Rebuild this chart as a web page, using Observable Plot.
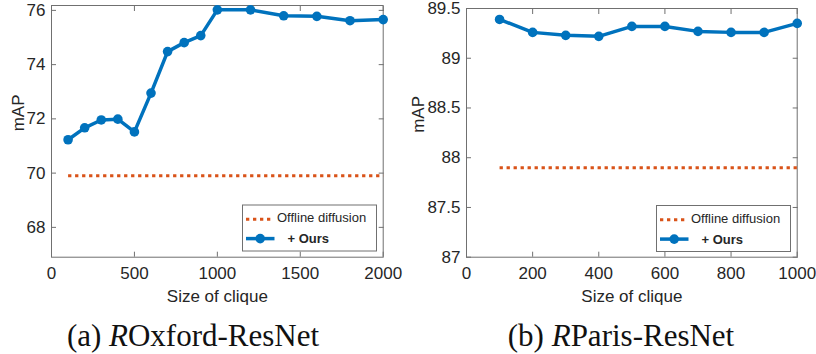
<!DOCTYPE html>
<html><head><meta charset="utf-8">
<script src="https://cdn.jsdelivr.net/npm/d3@7"></script>
<script src="https://cdn.jsdelivr.net/npm/@observablehq/plot@0.6"></script>
<style>
html,body{margin:0;padding:0;background:#fff;}
#wrap{position:relative;width:816px;height:354px;overflow:hidden;font-family:"Liberation Sans",Arial,sans-serif;}
#wrap > svg{position:absolute;}
</style></head><body><div id="wrap"></div>
<script>
// ---- data ----
const sizeA = [100, 200, 300, 400, 500, 600, 700, 800, 900, 1000, 1200, 1400, 1600, 1800, 2000];
const oursA = [71.23, 71.67, 71.96, 71.99, 71.52, 72.95, 74.48, 74.81, 75.07, 76.02, 76.02, 75.80, 75.78, 75.62, 75.66];
const offlineA = 69.9;
const xTicksA = [0, 500, 1000, 1500, 2000];
const yTicksA = [68, 70, 72, 74, 76];

const sizeB = [100, 200, 300, 400, 500, 600, 700, 800, 900, 1000];
const oursB = [89.39, 89.26, 89.23, 89.22, 89.32, 89.32, 89.27, 89.26, 89.26, 89.35];
const offlineB = 87.9;
const xTicksB = [0, 200, 400, 600, 800, 1000];
const yTicksB = [87, 87.5, 88, 88.5, 89, 89.5];

const xLabel = "Size of clique";
const yLabel = "mAP";
const legendLabels = ["Offline diffusion", "+ Ours"];
const captionA = ["(a) ", "R", "Oxford-ResNet"];
const captionB = ["(b) ", "R", "Paris-ResNet"];

const BLUE = "#0072BD", ORANGE = "#D95319", AXIS = "#707070", TEXT = "#262626";
const wrap = document.getElementById("wrap");
const fmt = d => String(d);

function panel({sizes, ours, offline, xDomain, yDomain, xTicks, yTicks, left, width, mt, ml, mr, labelDx}) {
  const pts = sizes.map((x, i) => ({x, y: ours[i]}));
  const base = sizes.map(x => ({x, y: offline}));
  const chart = Plot.plot({
    width, height: 310,
    marginTop: mt, marginLeft: ml, marginRight: mr, marginBottom: 53.3,
    x: {domain: xDomain},
    y: {domain: yDomain},
    style: {fontSize: "17px", fontFamily: "'Liberation Sans', Arial, sans-serif", color: TEXT, background: "transparent", overflow: "visible"},
    marks: [
      Plot.frame({stroke: AXIS, strokeWidth: 1}),
      Plot.axisX(xTicks, {anchor: "bottom", tickSize: -5, tickPadding: 15, tickFormat: fmt, label: null, stroke: AXIS, fill: TEXT}),
      Plot.axisX(xTicks, {anchor: "top", tickSize: -5, tickFormat: () => "", label: null, stroke: AXIS}),
      Plot.axisY(yTicks, {anchor: "left", tickSize: -5, tickPadding: 11, tickFormat: fmt, label: null, stroke: AXIS, fill: TEXT}),
      Plot.axisY(yTicks, {anchor: "right", tickSize: -5, tickFormat: () => "", label: null, stroke: AXIS}),
      Plot.text([xLabel], {text: d => d, frameAnchor: "bottom", dy: 39, lineAnchor: "middle", fill: TEXT}),
      Plot.text([yLabel], {text: d => d, frameAnchor: "left", dx: labelDx, rotate: -90, fill: TEXT}),
      Plot.line(base, {x: "x", y: "y", stroke: ORANGE, strokeWidth: 3, strokeDasharray: "3.3,3.7", strokeLinecap: "butt"}),
      Plot.line(pts, {x: "x", y: "y", stroke: BLUE, strokeWidth: 3.5}),
      Plot.dot(pts, {x: "x", y: "y", r: 4.8, fill: BLUE, stroke: "none"})
    ]
  });
  chart.style.left = left + "px";
  chart.style.top = "0px";
  wrap.appendChild(chart);
}

panel({sizes: sizeA, ours: oursA, offline: offlineA, xDomain: [0, 2000], yDomain: [66.9, 76.18],
       xTicks: xTicksA, yTicks: yTicksA, left: 0, width: 400, mt: 5, ml: 51, mr: 17.3, labelDx: -33});
panel({sizes: sizeB, ours: oursB, offline: offlineB, xDomain: [0, 1000], yDomain: [87, 89.5],
       xTicks: xTicksB, yTicks: yTicksB, left: 408, width: 408, mt: 8, ml: 58, mr: 19.3, labelDx: -48});

// overlay: legends and captions
const ov = d3.select(wrap).append("svg")
  .attr("width", 816).attr("height", 354)
  .style("left", "0px").style("top", "0px")
  .attr("font-family", "'Liberation Sans', Arial, sans-serif");

function legend(x0, y0) {
  const g = ov.append("g").attr("transform", `translate(${x0},${y0})`);
  g.append("rect").attr("x", 0).attr("y", 0).attr("width", 134).attr("height", 46)
    .attr("fill", "#fff").attr("stroke", AXIS).attr("stroke-width", 1);
  g.append("line").attr("x1", 3.5).attr("x2", 29).attr("y1", 14.3).attr("y2", 14.3)
    .attr("stroke", ORANGE).attr("stroke-width", 3).attr("stroke-dasharray", "3.3,3.7");
  g.append("text").attr("x", 34.5).attr("y", 17.3).attr("font-size", 13).attr("fill", TEXT).text(legendLabels[0]);
  g.append("line").attr("x1", 3.5).attr("x2", 32).attr("y1", 33.6).attr("y2", 33.6)
    .attr("stroke", BLUE).attr("stroke-width", 3.5);
  g.append("circle").attr("cx", 17.7).attr("cy", 33.6).attr("r", 4.8).attr("fill", BLUE);
  g.append("text").attr("x", 45).attr("y", 38.3).attr("font-size", 13).attr("font-weight", "bold").attr("fill", TEXT).text(legendLabels[1]);
}
legend(242.5, 205);
legend(656.5, 205.5);

function caption(cx, parts) {
  const t = ov.append("text").attr("x", cx).attr("y", 346).attr("text-anchor", "middle")
    .attr("font-family", "'Liberation Serif', 'DejaVu Serif', serif").attr("font-size", 31).attr("fill", "#111");
  t.append("tspan").text(parts[0]);
  t.append("tspan").attr("font-style", "italic").text(parts[1]);
  t.append("tspan").text(parts[2]);
}
caption(193, captionA);
caption(621, captionB);
</script></body></html>
